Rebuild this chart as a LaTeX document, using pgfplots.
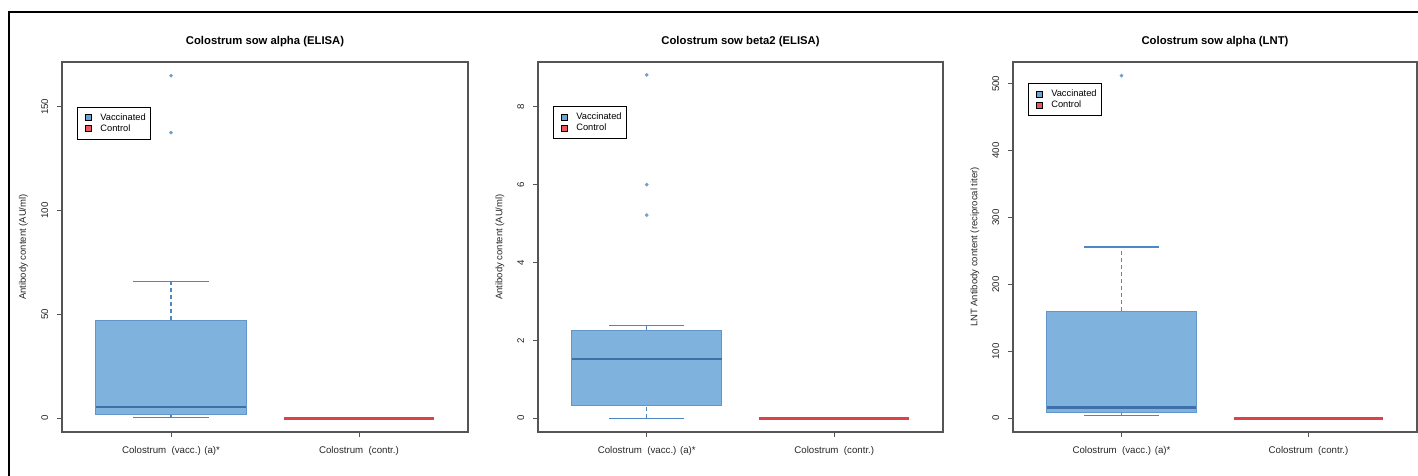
\documentclass[border=0pt]{standalone}
\usepackage{pgfplots}
\pgfplotsset{compat=1.18}
\usepackage{fontspec}
\setmainfont{Liberation Sans}
\definecolor{vfill}{RGB}{127,179,221}
\definecolor{vborder}{RGB}{98,150,202}
\definecolor{vmed}{RGB}{62,112,170}
\definecolor{vwhisk}{RGB}{78,136,196}
\definecolor{vout}{RGB}{115,160,205}
\definecolor{cred}{RGB}{222,66,72}
\definecolor{legred}{RGB}{232,88,94}
\definecolor{legblue}{RGB}{105,163,218}
\definecolor{axgray}{RGB}{85,85,85}

\pgfplotsset{
  legend image code/.code={\path[draw=none, fill=none] (0pt,0pt) -- (1pt,0pt); \draw[#1, line width=0.35pt] (2pt,-1.5pt) rectangle (5pt,1.5pt);},
  rpanel/.style={
    scale only axis, height=185pt, anchor=south west,
    xmin=0.42, xmax=2.58, xtick={1,2},
    xticklabels={Colostrum~~(vacc.) (a)*, Colostrum~~(contr.)},
    tick align=outside, tick pos=left, major tick length=2.5pt,
    axis line style={draw=axgray, line width=0.55pt},
    major tick style={draw=axgray, line width=0.45pt},
    tick label style={font=\fontsize{4.85}{5.8}\selectfont, text=black!85},
    /pgf/number format/assume math mode=true,
    yticklabel style={rotate=90, anchor=south, inner sep=0pt},
    xticklabel style={anchor=north, inner sep=0pt},
    yticklabel shift=4.2pt, xticklabel shift=4.3pt,
    title style={font=\fontsize{5.65}{6.5}\selectfont\bfseries, at={(0.5,1)}, anchor=base, yshift=2.5pt, inner sep=0pt},
    label style={font=\fontsize{4.75}{5.7}\selectfont, text=black!85},
    ylabel style={at={(axis description cs:-0.095,0.5)}, anchor=center},
    legend style={anchor=north west, draw=black, line width=0.4pt, inner xsep=2pt, inner ysep=2.5pt,
      font=\fontsize{4.65}{5.5}\selectfont, row sep=0pt, column sep=3.8pt,
      nodes={inner sep=0.5pt, text height=3.5pt, text depth=1pt}},
    legend cell align=left,
  },
  whisk/.style={color=vwhisk, line width=0.55pt, dash pattern=on 2pt off 1.5pt, forget plot},
  cap/.style={color=vwhisk, line width=0.55pt, forget plot},
  boxs/.style={draw=vborder, fill=vfill, line width=0.45pt, forget plot},
  med/.style={color=vmed, line width=1.2pt, forget plot},
  ctrl/.style={color=cred, line width=1.4pt, forget plot},
  outl/.style={only marks, mark=*, mark size=0.7pt, color=vout, forget plot},
}

\begin{document}
\begin{tikzpicture}
\useasboundingbox (0,0) rectangle (709pt,238pt);

% Panel 1: lower whisker 0.5, Q1 1.9, median 5.3, Q3 47.1, upper whisker 65.9
\begin{axis}[rpanel, at={(31pt,22pt)}, width=203pt,
  ymin=-6.6, ymax=171.6, ytick={0,50,100,150},
  title={Colostrum sow alpha (ELISA)},
  ylabel={Antibody content (AU/ml)},
  legend style={at={(0.037,0.879)}}]
\addplot[whisk] coordinates {(1,0.5) (1,1.9)};
\addplot[whisk] coordinates {(1,47.1) (1,65.9)};
\addplot[cap] coordinates {(0.8,0.5) (1.2,0.5)};
\addplot[cap] coordinates {(0.8,65.9) (1.2,65.9)};
\addplot[boxs] coordinates {(0.6,1.9) (1.4,1.9) (1.4,47.1) (0.6,47.1)} --cycle;
\addplot[med] coordinates {(0.6,5.3) (1.4,5.3)};
\addplot[outl] coordinates {(1,165) (1,137.6)};
\addplot[ctrl] coordinates {(1.6,0) (2.4,0)};
\addlegendimage{fill=legblue, draw=black}
\addlegendentry{Vaccinated}
\addlegendimage{fill=legred, draw=black}
\addlegendentry{Control}
\end{axis}

% Panel 2: lower whisker 0, Q1 0.32, median 1.52, Q3 2.26, upper whisker 2.39
\begin{axis}[rpanel, at={(269pt,22pt)}, width=202.5pt,
  ymin=-0.352, ymax=9.152, ytick={0,2,4,6,8},
  title={Colostrum sow beta2 (ELISA)},
  ylabel={Antibody content (AU/ml)},
  ylabel style={at={(axis description cs:-0.094,0.5)}},
  legend style={at={(0.037,0.881)}}]
\addplot[whisk] coordinates {(1,0) (1,0.32)};
\addplot[whisk] coordinates {(1,2.26) (1,2.39)};
\addplot[cap] coordinates {(0.8,0) (1.2,0)};
\addplot[cap] coordinates {(0.8,2.39) (1.2,2.39)};
\addplot[boxs] coordinates {(0.6,0.32) (1.4,0.32) (1.4,2.26) (0.6,2.26)} --cycle;
\addplot[med] coordinates {(0.6,1.52) (1.4,1.52)};
\addplot[outl] coordinates {(1,8.82) (1,6.0) (1,5.22)};
\addplot[ctrl] coordinates {(1.6,0) (2.4,0)};
\addlegendimage{fill=legblue, draw=black}
\addlegendentry{Vaccinated}
\addlegendimage{fill=legred, draw=black}
\addlegendentry{Control}
\end{axis}

% Panel 3: lower whisker 4, Q1 8, median 16, Q3 160, upper whisker 256
\begin{axis}[rpanel, at={(506.5pt,22pt)}, width=202pt,
  ymin=-20.48, ymax=532.48, ytick={0,100,200,300,400,500},
  title={Colostrum sow alpha (LNT)},
  ylabel={LNT Antibody content (reciprocal titer)},
  ylabel style={at={(axis description cs:-0.094,0.5)}},
  legend style={at={(0.037,0.943)}}]
\addplot[whisk] coordinates {(1,4) (1,8)};
\addplot[whisk] coordinates {(1,160) (1,256)};
\addplot[cap] coordinates {(0.8,4) (1.2,4)};
\addplot[cap] coordinates {(0.8,256) (1.2,256)};
\addplot[boxs] coordinates {(0.6,8) (1.4,8) (1.4,160) (0.6,160)} --cycle;
\addplot[med] coordinates {(0.6,16) (1.4,16)};
\addplot[outl] coordinates {(1,512)};
\addplot[ctrl] coordinates {(1.6,0) (2.4,0)};
\addlegendimage{fill=legblue, draw=black}
\addlegendentry{Vaccinated}
\addlegendimage{fill=legred, draw=black}
\addlegendentry{Control}
\end{axis}

\draw[black, line width=0.65pt] (4.5pt,-5pt) -- (4.5pt,232pt) -- (715pt,232pt);
\end{tikzpicture}
\end{document}
